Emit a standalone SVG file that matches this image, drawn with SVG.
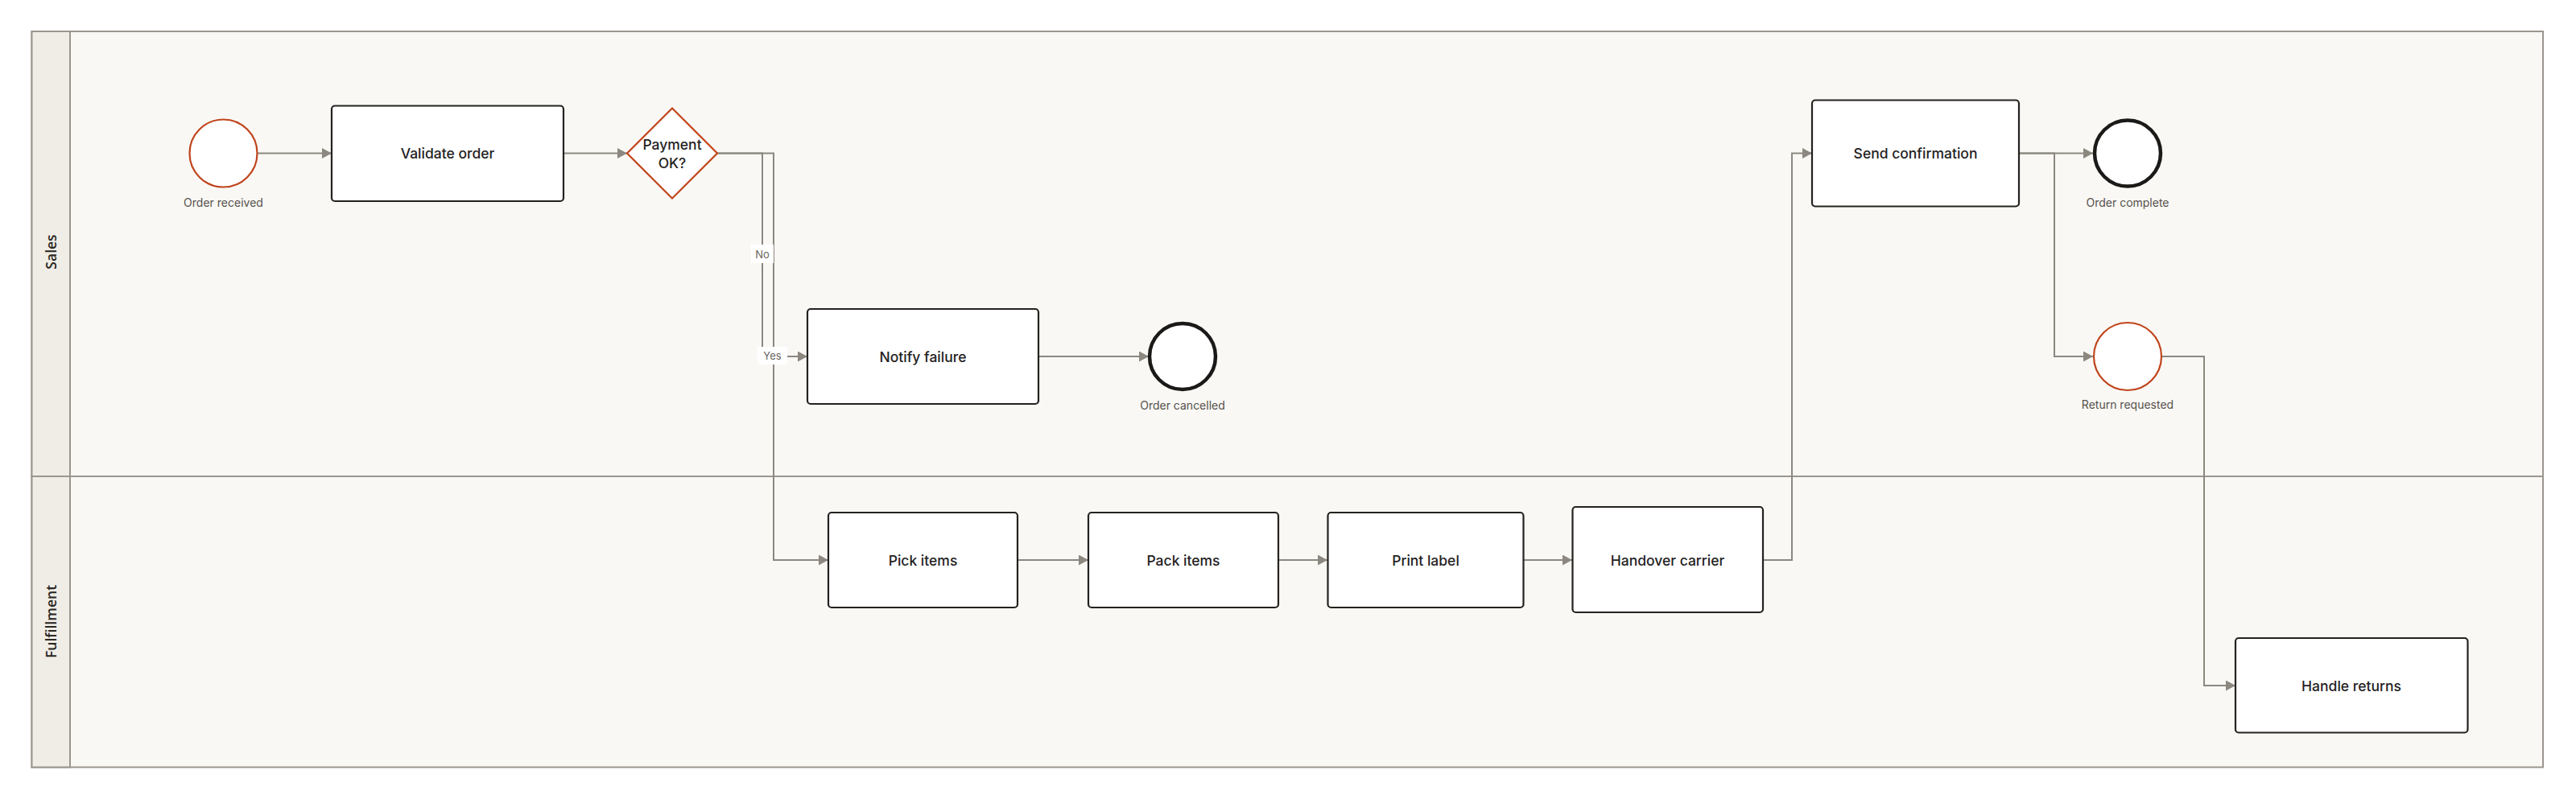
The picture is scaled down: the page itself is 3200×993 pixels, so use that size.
<svg xmlns="http://www.w3.org/2000/svg" width="3200" height="993" viewBox="0 0 3200 993">
<style>
.lane{fill:#f9f8f5;stroke:#9b968e;stroke-width:2}
.hdr{fill:#f0ede7;stroke:#9b968e;stroke-width:2}
.lanelbl{font-family:"Open Sans","Noto Sans",sans-serif;font-weight:600;font-size:17.5px;fill:#2a2722;text-anchor:middle;dominant-baseline:central}
.task{fill:#ffffff;stroke:#24221f;stroke-width:2.2}
.tl{font-family:Inter,"Liberation Sans",sans-serif;font-weight:500;font-size:17.5px;fill:#24221f;text-anchor:middle;dominant-baseline:central}
.start{fill:#ffffff;stroke:#c0441c;stroke-width:2.2}
.end{fill:#ffffff;stroke:#1c1a18;stroke-width:4.5}
.gw{fill:#ffffff;stroke:#c0441c;stroke-width:2.2}
.el{font-family:Inter,"Liberation Sans",sans-serif;font-size:14px;fill:#55514b;text-anchor:middle;dominant-baseline:central}
.cn{fill:none;stroke:#8c8880;stroke-width:2}
.clbl{font-family:Inter,"Liberation Sans",sans-serif;font-size:13px;fill:#6a665f;text-anchor:middle;dominant-baseline:central}
.cbg{fill:#ffffff}
</style>
<defs>
<marker id="arr" viewBox="0 0 10 10" refX="10" refY="5" markerWidth="12" markerHeight="13" markerUnits="userSpaceOnUse" orient="auto" preserveAspectRatio="none">
<path d="M0,0 L10,5 L0,10 Z" fill="#8c8880"/>
</marker>
</defs>
<rect x="0" y="0" width="3200" height="993" fill="#ffffff"/>
<g id="lane-sales">
<rect class="lane" x="39.5" y="39" width="3119.5" height="553"/>
<rect class="hdr" x="39.5" y="39" width="47.5" height="553"/>
<text class="lanelbl" transform="translate(62.5,313) rotate(-90)">Sales</text>
</g>
<g id="lane-fulfillment">
<rect class="lane" x="39.5" y="592" width="3119.5" height="361.5"/>
<rect class="hdr" x="39.5" y="592" width="47.5" height="361.5"/>
<text class="lanelbl" transform="translate(62.5,772.5) rotate(-90)">Fulfillment</text>
</g>
<g id="connectors">
<path class="cn" d="M320,190.5 H412" marker-end="url(#arr)"/>
<path class="cn" d="M700,190.5 H779" marker-end="url(#arr)"/>
<path class="cn" d="M891,190.5 H947 V443 H1003" marker-end="url(#arr)"/>
<path class="cn" d="M891,190.5 H961 V696 H1029" marker-end="url(#arr)"/>
<path class="cn" d="M1290,443 H1427" marker-end="url(#arr)"/>
<path class="cn" d="M1264,696 H1352" marker-end="url(#arr)"/>
<path class="cn" d="M1588,696 H1649" marker-end="url(#arr)"/>
<path class="cn" d="M1893,696 H1953" marker-end="url(#arr)"/>
<path class="cn" d="M2190,696 H2226 V190.5 H2251" marker-end="url(#arr)"/>
<path class="cn" d="M2508,190.5 H2600" marker-end="url(#arr)"/>
<path class="cn" d="M2508,190.5 H2552 V443 H2600" marker-end="url(#arr)"/>
<path class="cn" d="M2686,443 H2738 V852 H2777" marker-end="url(#arr)"/>
<rect class="cbg" x="933" y="304" width="28" height="23"/>
<text class="clbl" x="947" y="316">No</text>
<rect class="cbg" x="941" y="431" width="37" height="22"/>
<text class="clbl" x="959.5" y="442">Yes</text>
</g>
<g id="order-received">
<circle class="start" cx="277.5" cy="190.5" r="42"/>
<text class="el" x="277.5" y="251">Order received</text>
</g>
<g id="validate-order">
<rect class="task" x="412" y="131.5" width="288" height="118.5" rx="4"/>
<text class="tl" x="556" y="190.5">Validate order</text>
</g>
<g id="payment-ok">
<polygon class="gw" points="835,134.5 891,190.5 835,246.5 779,190.5"/>
<text class="tl" x="835" y="179">Payment</text>
<text class="tl" x="835" y="202">OK?</text>
</g>
<g id="notify-failure">
<rect class="task" x="1003" y="384" width="287" height="118" rx="4"/>
<text class="tl" x="1146.5" y="443">Notify failure</text>
</g>
<g id="order-cancelled">
<circle class="end" cx="1469" cy="443" r="41"/>
<text class="el" x="1469" y="503">Order cancelled</text>
</g>
<g id="pick-items">
<rect class="task" x="1029" y="637" width="235" height="118" rx="4"/>
<text class="tl" x="1146.5" y="696">Pick items</text>
</g>
<g id="pack-items">
<rect class="task" x="1352" y="637" width="236" height="118" rx="4"/>
<text class="tl" x="1470" y="696">Pack items</text>
</g>
<g id="print-label">
<rect class="task" x="1649.5" y="637" width="243" height="118" rx="4"/>
<text class="tl" x="1771" y="696">Print label</text>
</g>
<g id="handover-carrier">
<rect class="task" x="1953.5" y="630" width="236.5" height="131" rx="4"/>
<text class="tl" x="2071.5" y="696">Handover carrier</text>
</g>
<g id="send-confirmation">
<rect class="task" x="2251" y="124.5" width="257" height="132" rx="4"/>
<text class="tl" x="2379.5" y="190.5">Send confirmation</text>
</g>
<g id="order-complete">
<circle class="end" cx="2643" cy="190.5" r="41"/>
<text class="el" x="2643" y="251">Order complete</text>
</g>
<g id="return-requested">
<circle class="start" cx="2643" cy="443" r="42"/>
<text class="el" x="2643" y="502.5">Return requested</text>
</g>
<g id="handle-returns">
<rect class="task" x="2777" y="793" width="288.5" height="117.5" rx="4"/>
<text class="tl" x="2921" y="852">Handle returns</text>
</g>
</svg>
